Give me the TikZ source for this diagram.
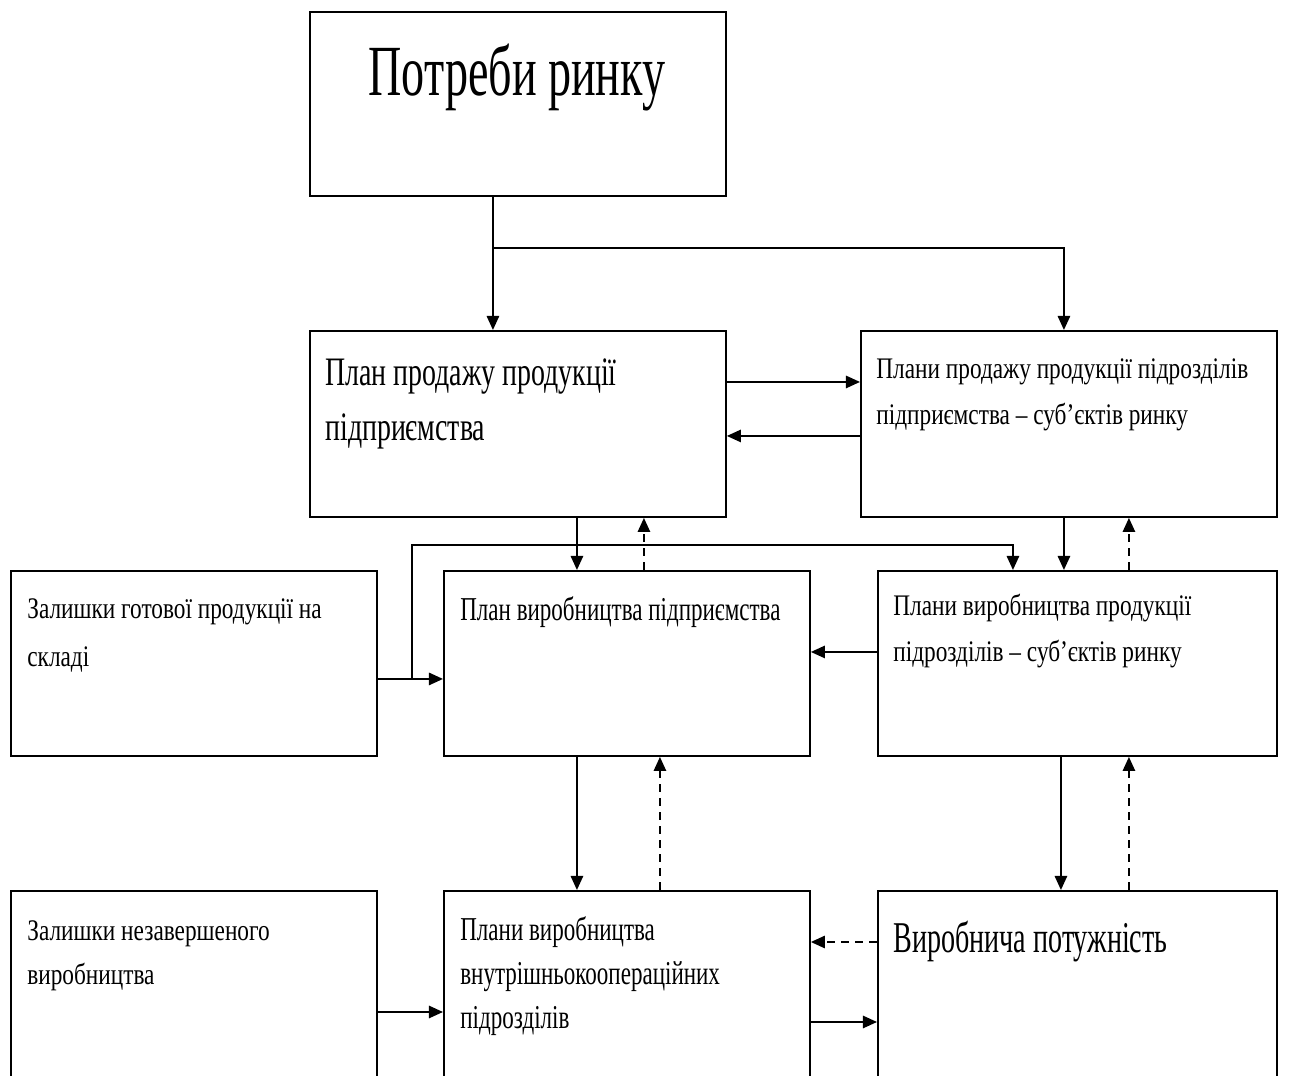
\documentclass[tikz,border=0pt]{standalone}
\usepackage{fontspec}
\setmainfont{Liberation Serif}
\newfontfamily\boxfont{Liberation Serif}[FakeStretch=0.69]
\newfontfamily\smallfont{Liberation Serif}[FakeStretch=0.78]
\newfontfamily\topfont{Liberation Serif}[FakeStretch=0.64]
\usetikzlibrary{arrows.meta}

\begin{document}
\begin{tikzpicture}[x=0.02cm,y=-0.02cm,
  box/.style={draw, line width=1.1pt, inner sep=0pt, anchor=north west},
  txt/.style={anchor=base west, inner sep=0pt, align=left},
  arr/.style={line width=1.1pt, -{Triangle[length=8pt,width=7pt]}},
  darr/.style={arr, dash pattern=on 4.5pt off 3.5pt}]
\useasboundingbox (0,0) rectangle (1300,1075);
\clip (0,0) rectangle (1300,1075);
% boxes
\node[box, minimum width=8.32cm, minimum height=3.68cm] (need) at (309,11) {};
\node[box, minimum width=8.32cm, minimum height=3.72cm] (salesplan) at (309,330) {};
\node[box, minimum width=8.32cm, minimum height=3.72cm] (unitsales) at (860,330) {};
\node[box, minimum width=7.32cm, minimum height=3.7cm] (stock) at (10,570) {};
\node[box, minimum width=7.32cm, minimum height=3.7cm] (prodplan) at (443,570) {};
\node[box, minimum width=7.98cm, minimum height=3.7cm] (unitprod) at (877,570) {};
\node[box, minimum width=7.32cm, minimum height=5cm] (wip) at (10,890) {};
\node[box, minimum width=7.32cm, minimum height=5cm] (coopplan) at (443,890) {};
\node[box, minimum width=7.98cm, minimum height=5cm] (capacity) at (877,890) {};
% texts (base = last line)
\node[anchor=base, inner sep=0pt, font=\topfont\fontsize{41}{48}\selectfont] (needtxt) at (517,95) {Потреби ринку};
\node[txt, font=\boxfont\fontsize{23}{31}\selectfont] (salesplantxt) at (325,440)
  {План продажу продукції\\підприємства};
\node[txt, font=\smallfont\fontsize{17}{26}\selectfont] (unitsalestxt) at (876,424)
  {Плани продажу продукції підрозділів\\підприємства – суб’єктів ринку};
\node[txt, font=\smallfont\fontsize{17}{27}\selectfont] (stocktxt) at (27,666)
  {Залишки готової продукції на\\складі};
\node[txt, font=\boxfont\fontsize{19}{26}\selectfont] (prodplantxt) at (460,620)
  {План виробництва підприємства};
\node[txt, font=\smallfont\fontsize{17}{26}\selectfont] (unitprodtxt) at (893,661)
  {Плани виробництва продукції\\підрозділів – суб’єктів ринку};
\node[txt, font=\smallfont\fontsize{17}{25}\selectfont] (wiptxt) at (27,984)
  {Залишки незавершеного\\виробництва};
\node[txt, font=\boxfont\fontsize{19}{25}\selectfont] (coopplantxt) at (460,1028)
  {Плани виробництва\\внутрішньокоопераційних\\підрозділів};
\node[txt, font=\topfont\fontsize{25}{30}\selectfont] (capacitytxt) at (893,952)
  {Виробнича потужність};
% connectors
\coordinate (split) at (492,248);
\draw[arr] ([xshift=-0.5cm]need.south) -- ([xshift=-0.5cm]salesplan.north);
\draw[arr] (split) -| ([xshift=-0.1cm]unitsales.north);
\draw[arr] ([yshift=0.84cm]salesplan.east) -- ([yshift=0.84cm]unitsales.west);
\draw[arr] ([yshift=-0.24cm]unitsales.west) -- ([yshift=-0.24cm]salesplan.east);
\draw[arr] ([xshift=-1cm]prodplan.north |- salesplan.south) -- ([xshift=-1cm]prodplan.north);
\draw[darr] ([xshift=0.34cm]prodplan.north) -- ([xshift=0.34cm]prodplan.north |- salesplan.south);
\draw[arr] ([xshift=-0.27cm]unitprod.north |- unitsales.south) -- ([xshift=-0.27cm]unitprod.north);
\draw[darr] ([xshift=1.03cm]unitprod.north) -- ([xshift=1.03cm]unitprod.north |- unitsales.south);
\draw[arr] ([yshift=-0.31cm]stock.east) -- ([yshift=-0.31cm]prodplan.west);
\draw[arr] ([xshift=0.68cm,yshift=-0.31cm]stock.east) |- ([xshift=-1.29cm,yshift=0.5cm]unitprod.north)
  -- ([xshift=-1.29cm]unitprod.north);
\draw[arr] ([yshift=0.23cm]unitprod.west) -- ([yshift=0.23cm]prodplan.east);
\draw[arr] ([xshift=-1cm]prodplan.south) -- ([xshift=-1cm]coopplan.north);
\draw[darr] ([xshift=0.66cm]coopplan.north) -- ([xshift=0.66cm]coopplan.north |- prodplan.south);
\draw[arr] ([xshift=-0.33cm]unitprod.south) -- ([xshift=-0.33cm]capacity.north);
\draw[darr] ([xshift=1.03cm]capacity.north) -- ([xshift=1.03cm]unitprod.south);
\draw[arr] ([yshift=-2.44cm]wip.north east) -- ([yshift=-2.44cm]coopplan.north west);
\draw[darr] ([yshift=-1.04cm]capacity.north west) -- ([yshift=-1.04cm]coopplan.north east);
\draw[arr] ([yshift=-2.64cm]coopplan.north east) -- ([yshift=-2.64cm]capacity.north west);
\end{tikzpicture}
\end{document}
